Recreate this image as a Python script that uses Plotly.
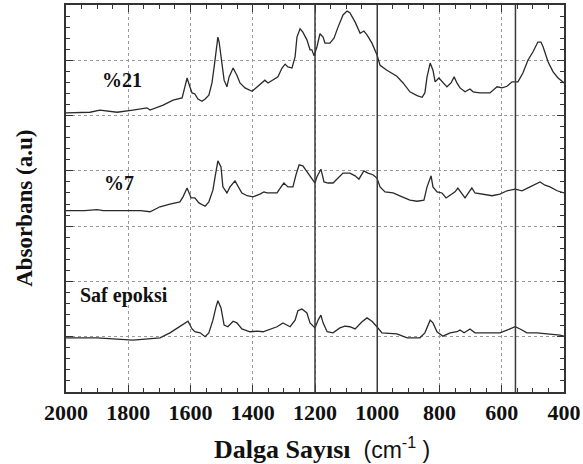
import plotly.graph_objects as go

# ---- data ----
wn_21 = [2000, 1923, 1891, 1836, 1785, 1740, 1730, 1688, 1656, 1627, 1618, 1611, 1602, 1595, 1586, 1576,
         1563, 1553, 1541, 1531, 1524, 1518, 1512, 1508, 1499, 1492, 1483, 1476, 1463, 1451, 1441, 1425,
         1402, 1386, 1367, 1361, 1351, 1335, 1319, 1306, 1296, 1287, 1274, 1264, 1258, 1248, 1239, 1226,
         1216, 1210, 1203, 1194, 1184, 1174, 1168, 1152, 1139, 1126, 1110, 1097, 1088, 1071, 1055, 1043,
         1033, 1017, 1001, 991, 969, 937, 917, 895, 872, 856, 847, 840, 830, 821, 814, 802, 789, 776, 763,
         753, 744, 734, 718, 702, 692, 670, 638, 615, 599, 583, 567, 548, 532, 516, 500, 484, 474, 467,
         451, 435, 419, 406, 400]
abs_21 = [5.05, 5.06, 5.10, 5.06, 5.10, 5.14, 5.10, 5.19, 5.28, 5.32, 5.52, 5.68, 5.52, 5.41, 5.39, 5.30,
          5.26, 5.30, 5.37, 5.59, 5.88, 6.19, 6.42, 6.33, 5.95, 5.64, 5.52, 5.70, 5.86, 5.73, 5.59, 5.50,
          5.44, 5.52, 5.61, 5.64, 5.59, 5.64, 5.70, 5.86, 5.93, 5.88, 5.86, 6.06, 6.42, 6.57, 6.51, 6.37,
          6.19, 6.19, 6.08, 6.24, 6.48, 6.42, 6.31, 6.31, 6.40, 6.60, 6.82, 6.89, 6.86, 6.69, 6.49, 6.53,
          6.46, 6.31, 6.10, 5.91, 5.82, 5.71, 5.59, 5.43, 5.36, 5.33, 5.41, 5.70, 5.95, 5.82, 5.61, 5.68,
          5.59, 5.52, 5.59, 5.70, 5.59, 5.50, 5.43, 5.48, 5.43, 5.41, 5.41, 5.52, 5.50, 5.53, 5.61, 5.61,
          5.77, 6.00, 6.15, 6.33, 6.33, 6.24, 5.97, 5.79, 5.68, 5.61, 5.59]

wn_7 = [2000, 1940, 1900, 1880, 1800, 1760, 1730, 1698, 1666, 1634, 1624, 1611, 1598, 1586, 1573, 1553,
        1541, 1528, 1521, 1512, 1502, 1496, 1483, 1473, 1457, 1447, 1435, 1418, 1399, 1377, 1364, 1354,
        1322, 1309, 1300, 1287, 1271, 1261, 1251, 1239, 1222, 1210, 1200, 1194, 1181, 1171, 1158, 1142,
        1126, 1110, 1088, 1071, 1059, 1043, 1030, 1014, 1001, 991, 975, 949, 920, 895, 872, 850, 840,
        827, 821, 808, 792, 779, 766, 750, 741, 728, 718, 705, 696, 686, 660, 631, 606, 583, 557, 535,
        509, 487, 477, 461, 445, 422, 406, 400]
abs_7 = [3.28, 3.28, 3.30, 3.28, 3.28, 3.28, 3.26, 3.35, 3.40, 3.44, 3.53, 3.69, 3.51, 3.51, 3.42, 3.36,
         3.44, 3.65, 3.89, 4.18, 4.07, 3.71, 3.60, 3.71, 3.82, 3.71, 3.60, 3.55, 3.53, 3.58, 3.62, 3.60,
         3.60, 3.71, 3.78, 3.71, 3.71, 3.93, 4.11, 4.09, 3.96, 3.87, 3.78, 3.89, 4.03, 3.80, 3.78, 3.78,
         3.87, 3.96, 3.96, 3.91, 3.85, 4.00, 3.96, 3.93, 3.87, 3.71, 3.62, 3.60, 3.53, 3.47, 3.45, 3.47,
         3.71, 3.91, 3.71, 3.62, 3.60, 3.51, 3.56, 3.62, 3.69, 3.60, 3.51, 3.62, 3.69, 3.60, 3.58, 3.55,
         3.58, 3.64, 3.67, 3.64, 3.71, 3.78, 3.80, 3.74, 3.71, 3.64, 3.62, 3.60]

wn_saf = [2000, 1900, 1785, 1730, 1698, 1666, 1634, 1608, 1595, 1586, 1569, 1553, 1541, 1528, 1518, 1512,
          1502, 1492, 1480, 1463, 1451, 1435, 1409, 1386, 1367, 1345, 1322, 1303, 1280, 1264, 1255, 1242,
          1226, 1216, 1200, 1190, 1181, 1174, 1161, 1142, 1120, 1104, 1088, 1071, 1049, 1033, 1017, 1001,
          985, 937, 904, 863, 847, 830, 821, 808, 789, 766, 744, 734, 721, 702, 686, 647, 606, 583, 557,
          541, 519, 487, 445, 413, 400]
abs_saf = [0.98, 0.98, 0.94, 0.96, 0.98, 1.07, 1.18, 1.28, 1.14, 1.09, 1.07, 1.00, 1.07, 1.30, 1.54, 1.65,
           1.52, 1.21, 1.18, 1.28, 1.25, 1.14, 1.09, 1.10, 1.09, 1.14, 1.18, 1.25, 1.18, 1.30, 1.47, 1.50,
           1.43, 1.25, 1.16, 1.30, 1.39, 1.25, 1.09, 1.07, 1.16, 1.19, 1.18, 1.14, 1.27, 1.34, 1.28, 1.18,
           1.07, 1.05, 0.98, 0.98, 1.07, 1.30, 1.25, 1.09, 1.01, 1.07, 1.09, 1.12, 1.07, 1.14, 1.07, 1.07,
           1.07, 1.12, 1.18, 1.14, 1.07, 1.07, 1.05, 1.03, 1.01]

series_names = ["%21", "%7", "Saf epoksi"]
label_pos_x = [1891, 1884, 1961]
label_pos_y = [5.64, 3.78, 1.74]
marker_lines = [1200, 1000, 556]
x_ticks = [2000, 1800, 1600, 1400, 1200, 1000, 800, 600, 400]

SERIF = "Liberation Serif, Times New Roman, serif"
SANS = "Liberation Sans, Arial, sans-serif"
line_color = "#2a2a2a"

fig = go.Figure()
for wn, ab, nm in [(wn_21, abs_21, series_names[0]), (wn_7, abs_7, series_names[1]),
                   (wn_saf, abs_saf, series_names[2])]:
    fig.add_trace(go.Scatter(x=wn, y=ab, mode="lines", name=nm,
                             line=dict(color=line_color, width=1.3), showlegend=False))

for v in marker_lines:
    fig.add_vline(x=v, line=dict(color="#3a3a3a", width=1.5), layer="above")

for nm, lx, ly in zip(series_names, label_pos_x, label_pos_y):
    fig.add_annotation(x=lx, y=ly, text="<b>%s</b>" % nm, showarrow=False, xanchor="left",
                       yanchor="middle", font=dict(family=SERIF, size=20, color="#111111"))

fig.add_annotation(xref="paper", yref="paper", x=0.515, y=-0.147, showarrow=False,
                   text="<b>Dalga Sayısı</b>  <span style='font-family:%s;font-size:23px'>(cm<sup>-1</sup> )</span>" % SANS,
                   font=dict(family=SERIF, size=26, color="#111111"), xanchor="center", yanchor="middle")
fig.add_annotation(xref="paper", yref="paper", x=-0.083, y=0.475, showarrow=False, textangle=-90,
                   text="<b>Absorbans (a.u)</b>",
                   font=dict(family=SERIF, size=23, color="#111111"), xanchor="center", yanchor="middle")

fig.update_xaxes(range=[2000, 400], tickvals=x_ticks, ticktext=["<b>%d</b>" % t for t in x_ticks],
                 automargin=False,
                 showline=True, linecolor="#333333", linewidth=1.5, mirror="allticks",
                 ticks="inside", ticklen=7, tickcolor="#333333",
                 showgrid=True, gridcolor="#9a9a9a", griddash="dot", gridwidth=1,
                 zeroline=False, tickfont=dict(family=SERIF, size=22, color="#111111"),
                 minor=dict(dtick=50, tick0=0, ticks="inside", ticklen=4, tickcolor="#333333", showgrid=False))
fig.update_yaxes(range=[0, 7], dtick=1, tick0=0, showticklabels=False, automargin=False,
                 showline=True, linecolor="#333333", linewidth=1.5, mirror="allticks",
                 ticks="inside", ticklen=7, tickcolor="#333333",
                 showgrid=True, gridcolor="#9a9a9a", griddash="dot", gridwidth=1,
                 zeroline=False,
                 minor=dict(dtick=0.2, tick0=0, ticks="inside", ticklen=4, tickcolor="#333333", showgrid=False))

fig.update_layout(width=583, height=464, margin=dict(l=66, r=19, t=5, b=72, autoexpand=False),
                  plot_bgcolor="white", paper_bgcolor="white")

fig.write_html("out.html", config={"displayModeBar": False},
               post_script="document.body.style.margin='0';")
